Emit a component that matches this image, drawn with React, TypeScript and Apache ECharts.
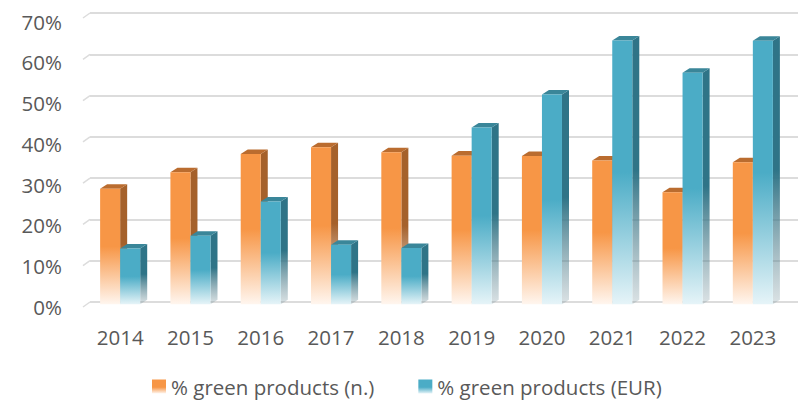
import React, { useEffect, useRef } from "react";
import * as echarts from "echarts";

const categories = ["2014", "2015", "2016", "2017", "2018", "2019", "2020", "2021", "2022", "2023"];
const greenCount = [28, 32, 36.4, 38, 36.8, 36, 35.9, 34.8, 27.1, 34.4];
const greenEur = [13.5, 16.6, 24.9, 14.4, 13.6, 42.8, 50.8, 63.9, 56.1, 63.8];
const seriesNames = ["% green products (n.)", "% green products (EUR)"];
const yTicks = [0, 10, 20, 30, 40, 50, 60, 70];

const FONT = "Open Sans";
const TXT = "#595959";
const GRID_C = "#DCDCDC";

type Pal = { front: string; fade: string; side: string; sideFade: string; top: string };
const ORANGE: Pal = { front: "#F79646", fade: "#FFF6EF", side: "#A5612B", sideFade: "rgba(190,150,120,0.25)", top: "#BA6C2F" };
const BLUE: Pal = { front: "#4BACC6", fade: "#E6F4F8", side: "#2F7487", sideFade: "rgba(110,140,150,0.25)", top: "#3A8699" };

function grad(c1: string, c2: string) {
  return new echarts.graphic.LinearGradient(0, 0, 0, 1, [
    { offset: 0, color: c1 },
    { offset: 0.5, color: c1 },
    { offset: 1, color: c2 },
  ]);
}

function makeRender(pal: Pal, left: boolean) {
  return (params: any, api: any) => {
    const idx = api.value(0);
    const v = api.value(1);
    const top = api.coord([idx, v]);
    const base = api.coord([idx, 0]);
    const cw = api.size([1, 0])[0];
    const bw = cw * 0.285;
    const dx = bw * 0.35;
    const dy = bw * 0.225;
    const x0 = left ? top[0] - bw : top[0];
    const yT = top[1] + dy / 2;
    const yB = base[1] + dy / 2;
    return {
      type: "group",
      children: [
        {
          type: "polygon",
          shape: { points: [[x0 + bw, yT], [x0 + bw + dx, yT - dy], [x0 + bw + dx, yB - dy], [x0 + bw, yB]] },
          style: { fill: grad(pal.side, pal.sideFade) },
        },
        {
          type: "polygon",
          shape: { points: [[x0, yT], [x0 + dx, yT - dy], [x0 + bw + dx, yT - dy], [x0 + bw, yT]] },
          style: { fill: pal.top },
        },
        {
          type: "rect",
          shape: { x: x0, y: yT, width: bw, height: yB - yT },
          style: { fill: grad(pal.front, pal.fade) },
        },
      ],
    };
  };
}

export default function App() {
  const ref = useRef<HTMLDivElement>(null);
  useEffect(() => {
    if (!ref.current) return;
    const chart = echarts.init(ref.current, undefined, { renderer: "svg" });
    const legendGrad = (c: string, f: string) =>
      new echarts.graphic.LinearGradient(0, 0, 0, 1, [
        { offset: 0, color: c },
        { offset: 0.55, color: c },
        { offset: 1, color: f },
      ]);
    chart.setOption({
      animation: false,
      textStyle: { fontFamily: FONT },
      grid: [
        { left: 85, right: 13, top: 13, bottom: 99 },
        { left: 90, right: 3, top: 13, bottom: 99 },
        { left: 85, right: 13, top: 21.5, bottom: 94 },
      ],
      legend: {
        left: 147,
        top: 371,
        itemWidth: 14,
        itemHeight: 14,
        itemGap: 44,
        icon: "rect",
        textStyle: { fontFamily: FONT, fontSize: 20.5, color: TXT },
        data: seriesNames,
      },
      xAxis: [
        {
          type: "category",
          gridIndex: 0,
          data: categories,
          axisLine: { show: false },
          axisTick: { show: false },
          axisLabel: { fontFamily: FONT, fontSize: 20.5, color: TXT, margin: 24 },
        },
        { type: "value", gridIndex: 1, show: false, min: 0, max: 1 },
        { type: "value", gridIndex: 2, show: false, min: 0, max: 1 },
      ],
      yAxis: [
        {
          type: "value",
          gridIndex: 0,
          min: 0,
          max: 70,
          interval: 10,
          show: false,
          splitLine: { show: false },
        },
        {
          type: "value",
          gridIndex: 1,
          min: 0,
          max: 70,
          interval: 10,
          axisLabel: { show: false },
          axisLine: { show: false },
          axisTick: { show: false },
          splitLine: { lineStyle: { color: GRID_C, width: 2 } },
        },
        {
          type: "value",
          gridIndex: 2,
          min: 0,
          max: 70,
          interval: 10,
          splitLine: { show: false },
          axisLine: { show: false },
          axisTick: { show: false },
          axisLabel: {
            fontFamily: FONT,
            fontSize: 20.5,
            color: TXT,
            margin: 23,
            formatter: (v: number) => (yTicks.includes(v) ? v + "%" : ""),
          },
        },
      ],
      series: [
        {
          type: "custom",
          xAxisIndex: 1,
          yAxisIndex: 1,
          silent: true,
          renderItem: (params: any, api: any) => {
            const p = api.coord([0, api.value(1)]);
            return {
              type: "line",
              shape: { x1: p[0] - 7, y1: p[1] + 5, x2: p[0], y2: p[1] },
              style: { stroke: GRID_C, lineWidth: 1.5 },
            };
          },
          encode: { x: 0, y: 1 },
          data: yTicks.map((v) => [0, v]),
          z: 1,
        },
        {
          name: seriesNames[0],
          type: "custom",
          xAxisIndex: 0,
          yAxisIndex: 0,
          itemStyle: { color: legendGrad(ORANGE.front, ORANGE.fade) },
          renderItem: makeRender(ORANGE, true),
          encode: { x: 0, y: 1 },
          data: greenCount.map((v, i) => [i, v]),
          z: 2,
        },
        {
          name: seriesNames[1],
          type: "custom",
          xAxisIndex: 0,
          yAxisIndex: 0,
          itemStyle: { color: legendGrad(BLUE.front, BLUE.fade) },
          renderItem: makeRender(BLUE, false),
          encode: { x: 0, y: 1 },
          data: greenEur.map((v, i) => [i, v]),
          z: 3,
        },
      ],
    });
    return () => chart.dispose();
  }, []);
  return <div ref={ref} style={{ width: 801, height: 401, position: "absolute", left: 0, top: 0 }} />;
}
